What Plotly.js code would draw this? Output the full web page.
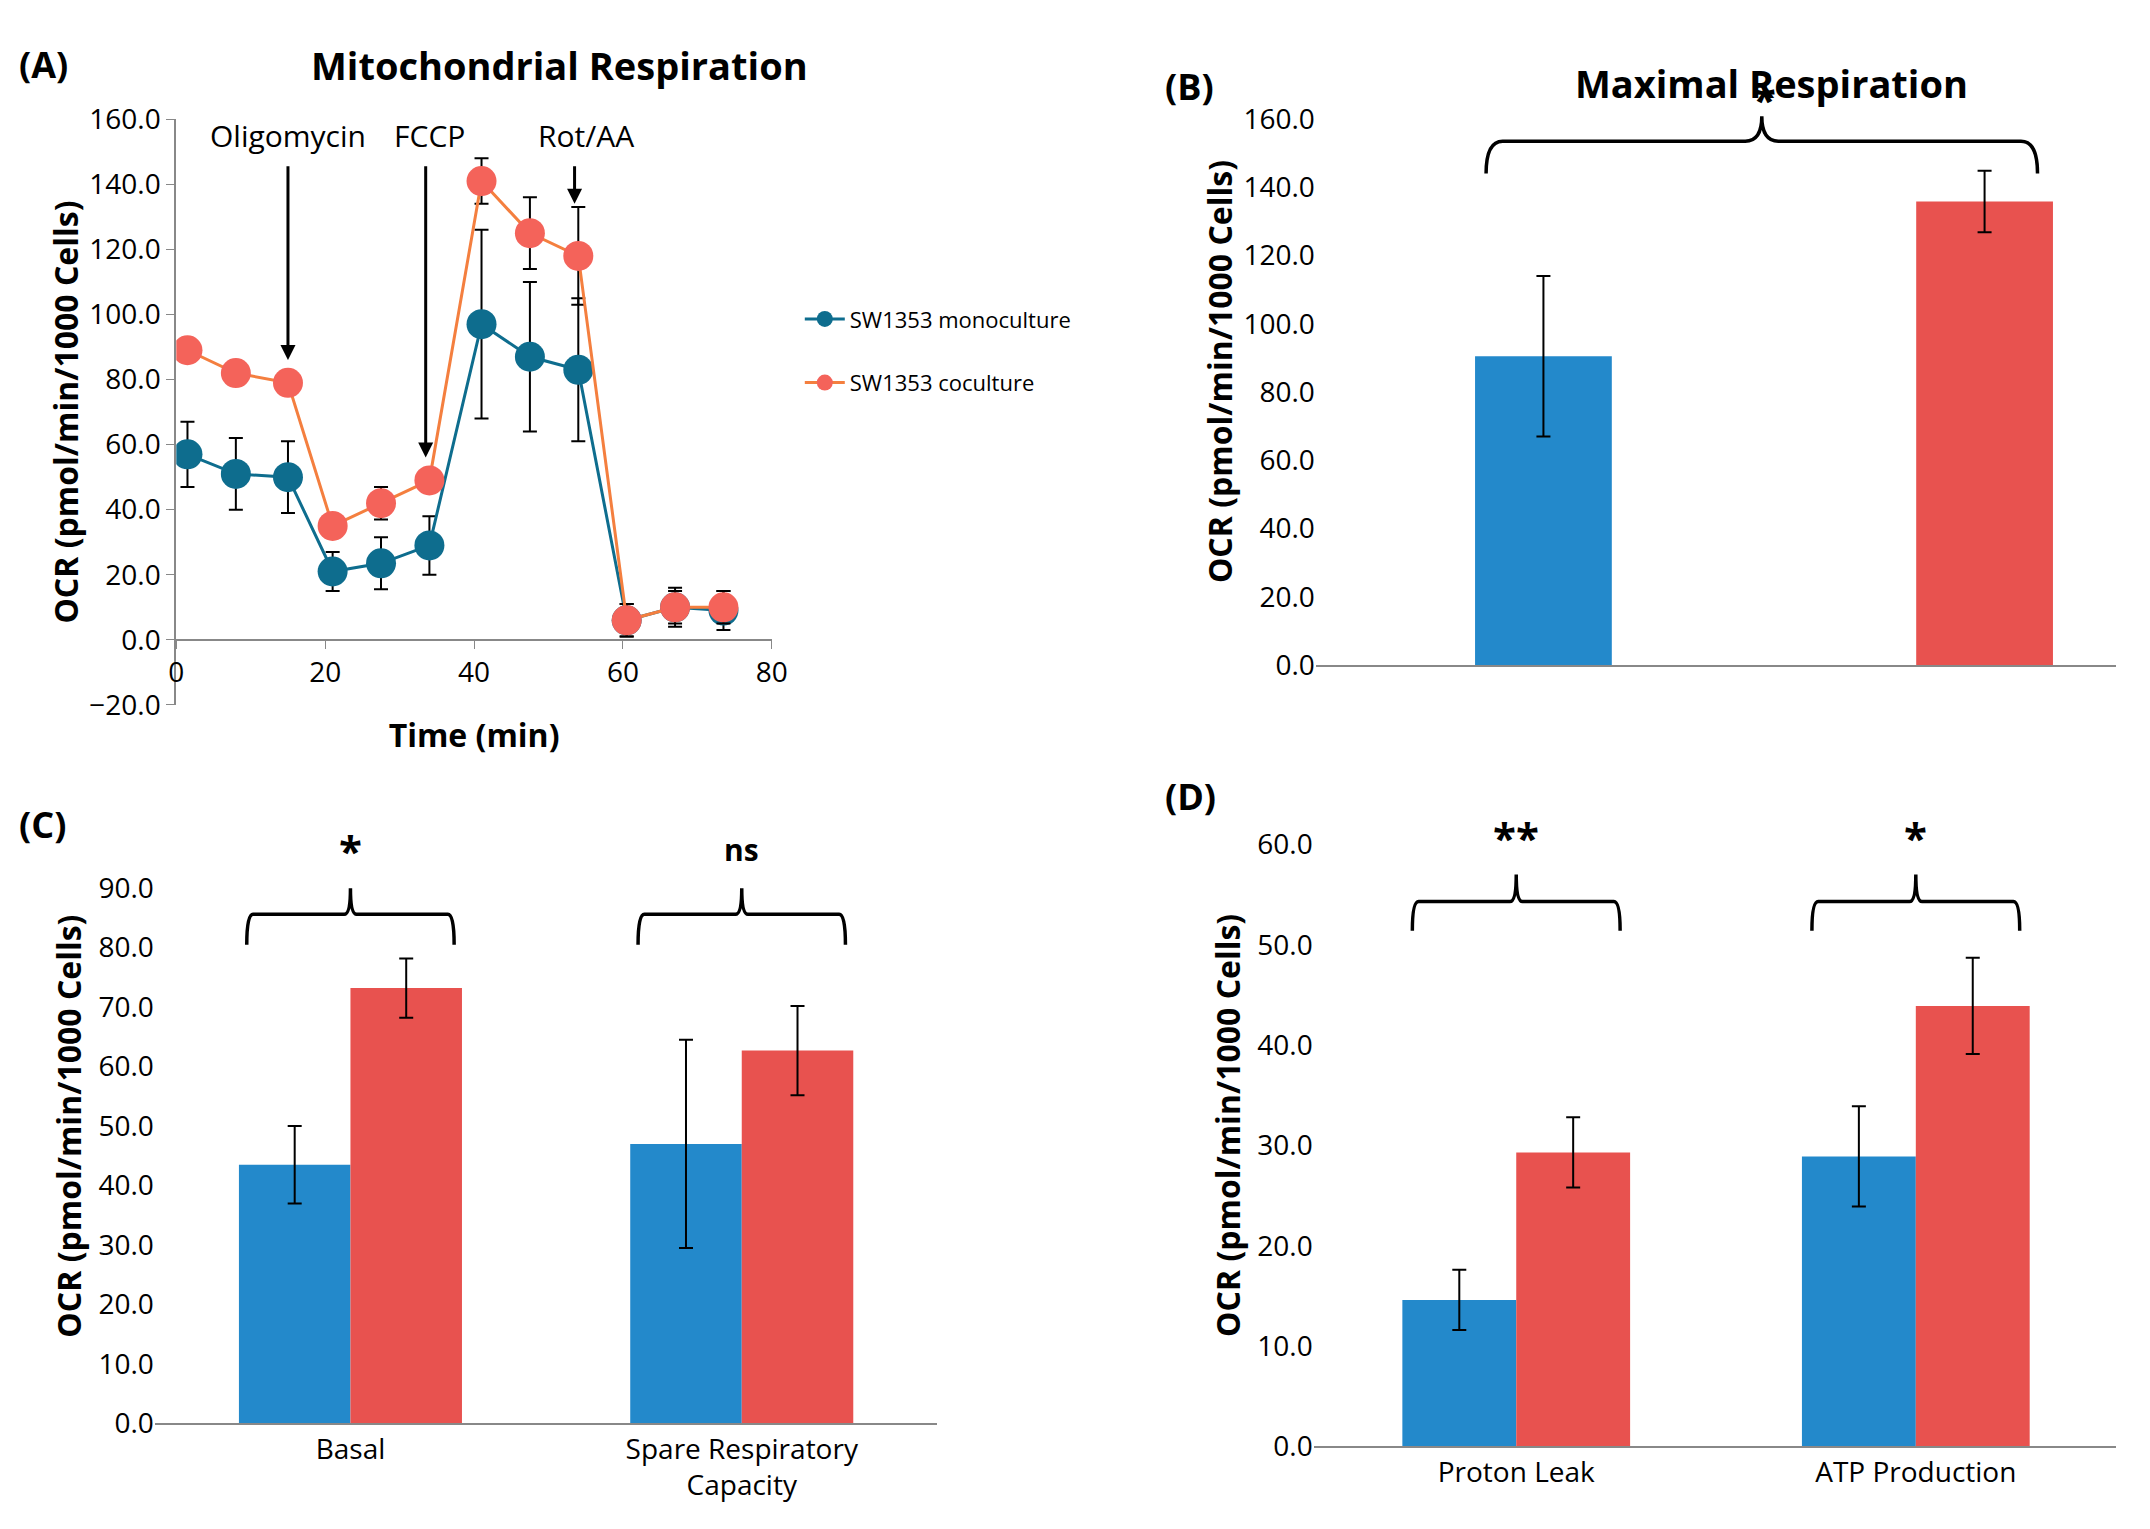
<!DOCTYPE html>
<html>
<head>
<meta charset="utf-8">
<script src="https://cdn.plot.ly/plotly-3.0.1.min.js"></script>
<style>body{margin:0;background:#fff}</style>
</head>
<body>
<div id="grafico" style="width:2150px;height:1529px"></div>
<script>
// Panel A data
var tiempo = [1.5, 8, 15, 21, 27.5, 34, 41, 47.5, 54, 60.5, 67, 73.5];
var mono = [57, 51, 50, 21, 23.5, 29, 97, 87, 83, 6, 10, 9];
var monoErr = [10, 11, 11, 6, 8, 9, 29, 23, 22, 5, 5, 6];
var coc = [89, 82, 79, 35, 42, 49, 141, 125, 118, 6, 10, 10];
var cocErr = [2, 2, 2, 3, 5, 3, 7, 11, 15, 5, 6, 5];

// Panel B
var maxMono = [90.5], maxMonoErr = [23.5];
var maxCo = [135.8], maxCoErr = [9];
// Panel C
var catC = ["Basal", "Spare Respiratory<br>Capacity"];
var cMono = [43.5, 47], cMonoErr = [6.5, 17.5];
var cCo = [73.2, 62.7], cCoErr = [5, 7.5];
// Panel D
var catD = ["Proton Leak", "ATP Production"];
var dMono = [14.6, 28.9], dMonoErr = [3, 5];
var dCo = [29.3, 43.9], dCoErr = [3.5, 4.8];

var azul = "#2389cb", rojo = "#e8524f";
var fuente = "Open Sans, Arial, sans-serif";
var eb = function(a){ return {type:'data', array:a, visible:true, color:'#000', thickness:2, width:7}; };

var data = [
  {x: tiempo, y: mono, error_y: eb(monoErr), type:'scatter', mode:'lines+markers', name:'SW1353 monoculture', legendgroup:'m',
   line:{color:'#0e6d8e', width:3}, marker:{color:'#0e6d8e', size:30}, xaxis:'x', yaxis:'y'},
  {x: tiempo, y: coc, error_y: eb(cocErr), type:'scatter', mode:'lines+markers', name:'SW1353 coculture', legendgroup:'c',
   line:{color:'#f47f3f', width:3}, marker:{color:'#f4635a', size:30}, xaxis:'x', yaxis:'y'},
  {x:[0], y:maxMono, error_y:eb(maxMonoErr), type:'bar', marker:{color:azul}, width:0.31, showlegend:false, xaxis:'x2', yaxis:'y2'},
  {x:[1], y:maxCo, error_y:eb(maxCoErr), type:'bar', marker:{color:rojo}, width:0.31, showlegend:false, xaxis:'x2', yaxis:'y2'},
  {x:[0,1], y:cMono, error_y:eb(cMonoErr), type:'bar', marker:{color:azul}, showlegend:false, xaxis:'x3', yaxis:'y3', offsetgroup:'a'},
  {x:[0,1], y:cCo, error_y:eb(cCoErr), type:'bar', marker:{color:rojo}, showlegend:false, xaxis:'x3', yaxis:'y3', offsetgroup:'b'},
  {x:[0,1], y:dMono, error_y:eb(dMonoErr), type:'bar', marker:{color:azul}, showlegend:false, xaxis:'x4', yaxis:'y4', offsetgroup:'a'},
  {x:[0,1], y:dCo, error_y:eb(dCoErr), type:'bar', marker:{color:rojo}, showlegend:false, xaxis:'x4', yaxis:'y4', offsetgroup:'b'}
];

var tf = {family:fuente, size:28, color:'#000'};
var ttl = function(t){ return {text:t, font:{family:fuente, size:32, color:'#000', weight:'bold'}}; };
var yA0 = 0.539, yA1 = 0.922;

function brace(xref, yref, x0, x1, yb, yh, yp){
  var c = (x0+x1)/2, d = (x1-x0)*0.03;
  return {type:'path', xref:xref, yref:yref, line:{color:'#000', width:3.5},
    path:'M'+x0+','+yb+' Q'+x0+','+yh+' '+(x0+d)+','+yh+' L'+(c-d)+','+yh+' Q'+c+','+yh+' '+c+','+yp+
         ' Q'+c+','+yh+' '+(c+d)+','+yh+' L'+(x1-d)+','+yh+' Q'+x1+','+yh+' '+x1+','+yb};
}

var layout = {
  width:2150, height:1529, margin:{l:0, r:0, t:0, b:0},
  paper_bgcolor:'#fff', plot_bgcolor:'rgba(0,0,0,0)',
  font:{family:fuente, color:'#000'},
  bargap:0.43,
  legend:{x:0.372, y:0.805, xanchor:'left', yanchor:'top', font:{family:fuente, size:22}, tracegroupgap:32, itemwidth:40},
  xaxis:{domain:[0.082,0.359], range:[0,80], dtick:20, anchor:'free', position: yA0+(yA1-yA0)*20/180,
    showline:true, linecolor:'#888', linewidth:2, ticks:'outside', ticklen:8, tickcolor:'#888', showgrid:false, zeroline:false,
    tickfont:tf, title:ttl('Time (min)')},
  yaxis:{domain:[yA0,yA1], range:[-20,160], dtick:20, tickformat:'.1f', showline:true, linecolor:'#888', linewidth:2,
    ticks:'outside', ticklen:8, tickcolor:'#888', showgrid:false, zeroline:false, tickfont:tf,
    title:ttl('OCR (pmol/min/1000 Cells)'), anchor:'x'},
  xaxis2:{domain:[0.612,0.984], range:[-0.516,1.297], showticklabels:false, showline:true, linecolor:'#888', linewidth:2,
    showgrid:false, zeroline:false, anchor:'y2'},
  yaxis2:{domain:[0.565,0.949], range:[0,172], tickvals:[0,20,40,60,80,100,120,140,160], tickformat:'.1f', showgrid:false,
    zeroline:false, tickfont:tf, title:ttl('OCR (pmol/min/1000 Cells)'), anchor:'x2'},
  xaxis3:{domain:[0.072,0.436], range:[-0.5,1.5], tickvals:[0,1], ticktext:catC, showline:true, linecolor:'#888', linewidth:2,
    showgrid:false, zeroline:false, tickfont:tf, anchor:'y3'},
  yaxis3:{domain:[0.069,0.458], range:[0,100], tickvals:[0,10,20,30,40,50,60,70,80,90], tickformat:'.1f', showgrid:false,
    zeroline:false, tickfont:tf, title:ttl('OCR (pmol/min/1000 Cells)'), anchor:'x3'},
  xaxis4:{domain:[0.611,0.984], range:[-0.507,1.5], tickvals:[0,1], ticktext:catD, showline:true, linecolor:'#888', linewidth:2,
    showgrid:false, zeroline:false, tickfont:tf, anchor:'y4'},
  yaxis4:{domain:[0.054,0.474], range:[0,64], tickvals:[0,10,20,30,40,50,60], tickformat:'.1f', showgrid:false,
    zeroline:false, tickfont:tf, title:ttl('OCR (pmol/min/1000 Cells)'), anchor:'x4'},
  shapes:[
    brace('x2','y2',-0.13,1.12,144,153.5,160.8),
    brace('x3','y3',-0.265,0.265,80.5,85.6,90),
    brace('x3','y3',0.735,1.265,80.5,85.6,90),
    brace('x4','y4',-0.26,0.26,51.4,54.3,57),
    brace('x4','y4',0.74,1.26,51.4,54.3,57)
  ],
  annotations:[
    {text:'<b>(A)</b>', xref:'paper', yref:'paper', x:0.008, y:0.975, showarrow:false, xanchor:'left', font:{size:36}},
    {text:'<b>(B)</b>', xref:'paper', yref:'paper', x:0.541, y:0.961, showarrow:false, xanchor:'left', font:{size:36}},
    {text:'<b>(C)</b>', xref:'paper', yref:'paper', x:0.008, y:0.461, showarrow:false, xanchor:'left', font:{size:36}},
    {text:'<b>(D)</b>', xref:'paper', yref:'paper', x:0.541, y:0.479, showarrow:false, xanchor:'left', font:{size:36}},
    {text:'<b>Mitochondrial Respiration</b>', xref:'paper', yref:'paper', x:0.26, y:0.976, xanchor:'center', showarrow:false, font:{size:38}},
    {text:'<b>Maximal Respiration</b>', xref:'paper', yref:'paper', x:0.824, y:0.964, xanchor:'center', showarrow:false, font:{size:38}},
    {text:'Oligomycin', xref:'x', yref:'y', x:15, y:155, xanchor:'center', showarrow:false, font:{size:30}},
    {text:'FCCP', xref:'x', yref:'y', x:34, y:155, xanchor:'center', showarrow:false, font:{size:30}},
    {text:'Rot/AA', xref:'x', yref:'y', x:55, y:155, xanchor:'center', showarrow:false, font:{size:30}},
    {xref:'x', yref:'y', x:15, y:86, axref:'x', ayref:'y', ax:15, ay:146, text:'', showarrow:true, arrowhead:2, arrowsize:1, arrowwidth:3, arrowcolor:'#000'},
    {xref:'x', yref:'y', x:33.5, y:56, axref:'x', ayref:'y', ax:33.5, ay:146, text:'', showarrow:true, arrowhead:2, arrowsize:1, arrowwidth:3, arrowcolor:'#000'},
    {xref:'x', yref:'y', x:53.5, y:134, axref:'x', ayref:'y', ax:53.5, ay:146, text:'', showarrow:true, arrowhead:2, arrowsize:1, arrowwidth:3, arrowcolor:'#000'},
    {text:'<b>*</b>', xref:'x2', yref:'y2', x:0.5, y:166, xanchor:'center', showarrow:false, font:{size:42}},
    {text:'<b>*</b>', xref:'x3', yref:'y3', x:0, y:96.5, xanchor:'center', showarrow:false, font:{size:42}},
    {text:'<b>ns</b>', xref:'x3', yref:'y3', x:1, y:96.5, xanchor:'center', showarrow:false, font:{size:30}},
    {text:'<b>**</b>', xref:'x4', yref:'y4', x:0, y:60.8, xanchor:'center', showarrow:false, font:{size:42}},
    {text:'<b>*</b>', xref:'x4', yref:'y4', x:1, y:60.8, xanchor:'center', showarrow:false, font:{size:42}}
  ]
};

Plotly.newPlot("grafico", data, layout, {displayModeBar:false});
</script>
</body>
</html>
